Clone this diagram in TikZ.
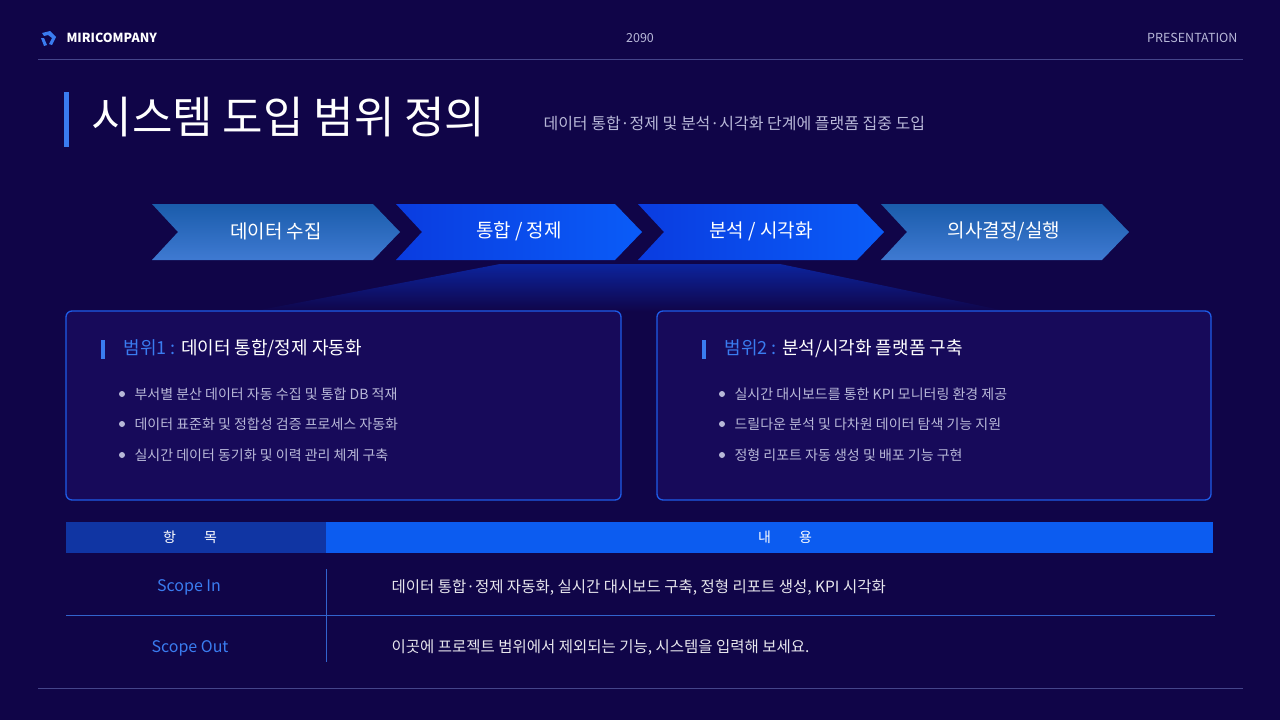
\documentclass[tikz,border=0pt]{standalone}
\usepackage{fontspec}
\setmainfont{Noto Sans CJK KR}
\newfontfamily\kr{Noto Sans CJK KR}
\usetikzlibrary{shadings}
\definecolor{bg}{HTML}{100548}
\definecolor{boxfill}{HTML}{170A5A}
\definecolor{boxline}{HTML}{1E5CE8}
\definecolor{accent}{HTML}{3A7CF0}
\definecolor{subtxt}{HTML}{B8B8D8}
\definecolor{rule}{HTML}{45458A}
\definecolor{HTML1A5CAB}{HTML}{1A5CAB}
\definecolor{HTML3F7AD2}{HTML}{3F7AD2}
\definecolor{HTML0A3CE0}{HTML}{0A3CE0}
\definecolor{HTML0A5CF8}{HTML}{0A5CF8}
\tikzset{
  chevA/.style={top color=HTML1A5CAB, bottom color=HTML3F7AD2},
  chevB/.style={left color=HTML0A3CE0, right color=HTML0A5CF8},
  chevtxt/.style={text=white, font=\kr\fontsize{19}{22}\selectfont},
  scopebox/.style={draw=boxline, line width=1.3pt, fill=boxfill, rounded corners=6pt},
  bul/.style={text=subtxt, font=\kr\fontsize{14}{17}\selectfont, anchor=west},
  dot/.style={circle, fill=subtxt, inner sep=0pt, minimum size=6pt},
}
\begin{document}
\begin{tikzpicture}[x=1pt,y=-1pt]
\fill[bg] (0,0) rectangle (1280,720);
\useasboundingbox (0,0) rectangle (1280,720);
% header
\node[text=white, font=\kr\bfseries\fontsize{12.5}{14}\selectfont, anchor=west] (brand) at (63,38) {MIRICOMPANY};
\fill[accent] (42,33) -- (50,31) -- (56,37) -- (52,45) -- (49,44) -- (52,38) -- (48,35) -- (44,36) -- cycle;
\fill[accent] (41,38) -- (44,38) -- (47,45) -- (44,46) -- cycle;
\node[text=subtxt, font=\kr\fontsize{12.5}{14}\selectfont] (yr) at (640,38) {2090};
\node[text=subtxt, font=\kr\fontsize{12.5}{14}\selectfont, anchor=east] (pres) at (1241,38) {PRESENTATION};
\draw[rule, line width=0.8pt] (38,59) -- (1243,59);
\draw[rule, line width=0.8pt] (38,688) -- (1243,688);
% title
\fill[accent] (64,92) rectangle (69,147);
\node[text=white, font=\kr\fontsize{44}{50}\selectfont, anchor=west] (title) at (88,117) {시스템 도입 범위 정의};
\node[text=subtxt, font=\kr\fontsize{16}{19}\selectfont, anchor=west] (sub) at (540,123) {데이터 통합·정제 및 분석·시각화 단계에 플랫폼 집중 도입};
% glow
\shade[top color=HTML0A3CE0!70!bg, bottom color=bg, opacity=0.8] (500,264) -- (780,264) -- (1010,312) -- (250,312) -- cycle;
% chevrons
\shade[chevA] (152,204) -- (373,204) -- (400,232) -- (373,260) -- (152,260) -- (178,232) -- cycle;
\shade[chevB] (396,204) -- (615,204) -- (642,232) -- (615,260) -- (396,260) -- (422,232) -- cycle;
\shade[chevB] (638,204) -- (857,204) -- (884,232) -- (857,260) -- (638,260) -- (664,232) -- cycle;
\shade[chevA] (881,204) -- (1102,204) -- (1129,232) -- (1102,260) -- (881,260) -- (907,232) -- cycle;
\node[chevtxt] (c1) at (276,231) {데이터 수집};
\node[chevtxt] (c2) at (519,231) {통합 / 정제};
\node[chevtxt] (c3) at (761,231) {분석 / 시각화};
\node[chevtxt] (c4) at (1004,231) {의사결정/실행};
% boxes
\draw[scopebox] (66,311) rectangle (621,500);
\draw[scopebox] (657,311) rectangle (1211,500);
\fill[accent] (101,340) rectangle (105,359);
\node[font=\kr\fontsize{18}{21}\selectfont, anchor=west] (s1) at (120,349) {\textcolor{accent}{범위1 :} \textcolor{white}{데이터 통합/정제 자동화}};
\fill[accent] (702,340) rectangle (706,359);
\node[font=\kr\fontsize{18}{21}\selectfont, anchor=west] (s2) at (721,349) {\textcolor{accent}{범위2 :} \textcolor{white}{분석/시각화 플랫폼 구축}};
\foreach \y/\t in {394/부서별 분산 데이터 자동 수집 및 통합 DB 적재, 424/데이터 표준화 및 정합성 검증 프로세스 자동화, 455/실시간 데이터 동기화 및 이력 관리 체계 구축}{
  \node[dot] at (122,\y) {};
  \node[bul] at (131,\y) {\t};
}
\foreach \y/\t in {394/실시간 대시보드를 통한 KPI 모니터링 환경 제공, 424/드릴다운 분석 및 다차원 데이터 탐색 기능 지원, 455/정형 리포트 자동 생성 및 배포 기능 구현}{
  \node[dot] at (722,\y) {};
  \node[bul] at (731,\y) {\t};
}
% table
\fill[HTML1A5CAB!40!HTML0A3CE0!70!bg] (66,522) rectangle (326,553);
\fill[HTML0A5CF8!90!HTML1A5CAB] (326,522) rectangle (1213,553);
\node[text=white, font=\kr\fontsize{14}{17}\selectfont] (h1) at (190,537) {항\hspace{2em}목};
\node[text=white, font=\kr\fontsize{14}{17}\selectfont] (h2) at (785,537) {내\hspace{2em}용};
\draw[accent!80!bg, line width=0.8pt] (66,615) -- (1215,615);
\draw[accent!80!bg, line width=0.8pt] (326,569) -- (326,662);
\node[text=accent, font=\kr\fontsize{16}{19}\selectfont] (r1) at (189,587) {Scope In};
\node[text=accent, font=\kr\fontsize{16}{19}\selectfont] (r2) at (190,648) {Scope Out};
\node[text=white!90!bg, font=\kr\fontsize{15.5}{18}\selectfont, anchor=west] (t1) at (388,587) {데이터 통합·정제 자동화, 실시간 대시보드 구축, 정형 리포트 생성, KPI 시각화};
\node[text=white!90!bg, font=\kr\fontsize{15.5}{18}\selectfont, anchor=west] (t2) at (388,648) {이곳에 프로젝트 범위에서 제외되는 기능, 시스템을 입력해 보세요.};
\end{tikzpicture}
\end{document}
